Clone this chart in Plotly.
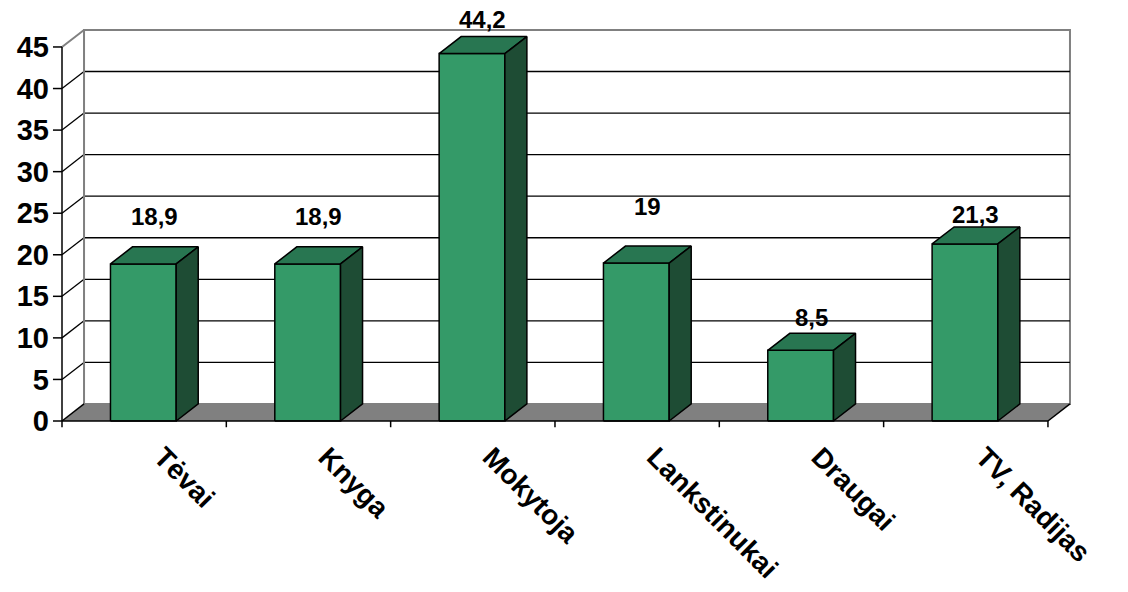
import plotly.graph_objects as go

# --- data ---
categories = ["Tėvai", "Knyga", "Mokytoja", "Lankstinukai", "Draugai", "TV, Radijas"]
values = [18.9, 18.9, 44.2, 19, 8.5, 21.3]
y_ticks = [0, 5, 10, 15, 20, 25, 30, 35, 40, 45]

# --- pseudo-3D geometry (in data units) ---
DX, DY = 0.134, 2.05          # depth offset of the back plane
YMAX = 45
N = len(categories)
BAR_OFF, BAR_W = 0.295, 0.40  # bar front face position inside a category slot
# heights at which the value labels sit
label_y = [24.6, 24.6, 48.25, 25.8, 12.5, 24.9]

FRONT = "#349A68"
TOP = "#287651"
SIDE = "#1E4C34"
FLOOR = "#808080"
EDGE = "#808080"
FONT = "Liberation Sans, Arial, sans-serif"

fig = go.Figure()


def poly(xs, ys, fill, line_color="black", width=1.5):
    fig.add_trace(go.Scatter(
        x=xs + [xs[0]], y=ys + [ys[0]], mode="lines", fill="toself",
        fillcolor=fill, line=dict(color=line_color, width=width),
        hoverinfo="skip", showlegend=False))


def lines(segs, color, width):
    xs, ys = [], []
    for (x0, y0, x1, y1) in segs:
        xs += [x0, x1, None]
        ys += [y0, y1, None]
    fig.add_trace(go.Scatter(x=xs, y=ys, mode="lines",
                             line=dict(color=color, width=width),
                             hoverinfo="skip", showlegend=False))


# back wall and left wall
poly([DX, N + DX, N + DX, DX], [DY, DY, YMAX + DY, YMAX + DY], "white", EDGE, 2)
poly([0, DX, DX, 0], [0, DY, YMAX + DY, YMAX], "white", "rgba(0,0,0,0)", 0)

# gridlines on back and side walls
grid = []
for t in y_ticks[1:-1]:
    grid.append((DX, t + DY, N + DX, t + DY))
    grid.append((0, t, DX, t + DY))
lines(grid, "black", 1.3)
lines([(0, YMAX, DX, YMAX + DY), (DX, DY, DX, YMAX + DY)], EDGE, 2)

# floor
poly([0, N, N + DX, DX], [0, 0, DY, DY], FLOOR, "rgba(0,0,0,0)", 0)
lines([(0, 0, DX, DY), (N, 0, N + DX, DY)], "black", 1.5)

# bars
for i, v in enumerate(values):
    x0 = i + BAR_OFF
    x1 = x0 + BAR_W
    poly([x0, x1, x1, x0], [0, 0, v, v], FRONT)
    poly([x0, x1, x1 + DX, x0 + DX], [v, v, v + DY, v + DY], TOP)
    poly([x1, x1 + DX, x1 + DX, x1], [0, DY, v + DY, v], SIDE)

# axes lines and tick marks
axis = [(0, 0, 0, YMAX), (0, 0, N, 0)]
axis += [(-0.055, t, 0, t) for t in y_ticks]
axis += [(i, 0, i, -0.75) for i in range(N + 1)]
lines(axis, "black", 1.5)

# value labels
for i, v in enumerate(values):
    fig.add_annotation(x=i + 0.56, y=label_y[i],
                       text="<b>" + f"{v:g}".replace(".", ",") + "</b>",
                       showarrow=False, xanchor="center", yanchor="middle",
                       font=dict(family=FONT, size=24, color="black"))

fig.update_layout(
    width=1128, height=592,
    margin=dict(l=50, r=48, t=5, b=162),
    paper_bgcolor="white", plot_bgcolor="white",
    showlegend=False,
    xaxis=dict(range=[-0.073, 6.195], showgrid=False, zeroline=False,
               showline=False, ticks="", ticklabelstandoff=4, automargin=False,
               tickvals=[i + 0.61 for i in range(N)],
               ticktext=["<b>" + c + "</b>" for c in categories],
               tickangle=45,
               tickfont=dict(family=FONT, size=28, color="black")),
    yaxis=dict(range=[-1.083, 50.05], showgrid=False, zeroline=False,
               showline=False, ticks="", automargin=False,
               tickvals=y_ticks, ticktext=["<b>" + str(t) + "</b>" for t in y_ticks],
               tickfont=dict(family=FONT, size=29, color="black")),
)

fig.write_html("out.html")
